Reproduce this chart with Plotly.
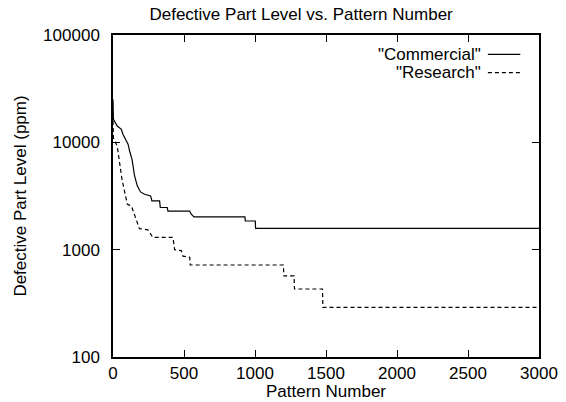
import plotly.graph_objects as go

# ---- data ----
commercial_x = [0, 3, 30, 59, 70, 106, 117, 134, 152, 171, 194, 222, 265, 274, 328, 333,
                382, 387, 540, 551, 570, 929, 932, 1002, 1004, 3000]
commercial_y = [25000, 16400, 14200, 13200, 11900, 9600, 8300, 6950, 4860, 3930, 3450, 3280,
                3170, 2850, 2850, 2470, 2470, 2290, 2290, 2140, 2020, 2020, 1850, 1850, 1580, 1580]

research_x = [0, 3, 30, 54, 63, 101, 129, 186, 246, 280, 422, 434, 481, 493, 540, 544,
              1200, 1203, 1275, 1278, 1475, 1478, 3000]
research_y = [15800, 11000, 9200, 5620, 4530, 2650, 2560, 1570, 1530, 1300, 1300, 1000, 980,
              870, 850, 720, 720, 570, 570, 430, 430, 290, 290]

series_names = ['"Commercial"', '"Research"']
y_tickvals = [100, 1000, 10000, 100000]
y_ticktext = ["100", "1000", "10000", "100000"]
y_minor_tickvals = [m * d for d in (100, 1000, 10000) for m in range(2, 10)]
x_tickvals = [0, 500, 1000, 1500, 2000, 2500, 3000]

FONT = "Liberation Sans, Arial, Helvetica, sans-serif"
FS = 17

fig = go.Figure()
fig.add_trace(go.Scatter(x=commercial_x, y=commercial_y, mode="lines", name=series_names[0],
                         line=dict(color="black", width=1.2), showlegend=False))
fig.add_trace(go.Scatter(x=research_x, y=research_y, mode="lines", name=series_names[1],
                         line=dict(color="black", width=1.2, dash="4px,3px"), showlegend=False))

# legend (gnuplot style: text right-aligned, sample to the right)
legend_rows = [(0.940, "solid"), (0.883, "4px,3px")]
for name, (yp, dash) in zip(series_names, legend_rows):
    fig.add_annotation(x=0.866, y=yp, xref="paper", yref="paper", text=name, showarrow=False,
                       xanchor="right", yanchor="middle", borderpad=0,
                       font=dict(family=FONT, size=FS, color="black"))
    fig.add_shape(type="line", xref="paper", yref="paper", x0=0.880, x1=0.956, y0=yp, y1=yp,
                  line=dict(color="black", width=1.2, dash=dash))

# x-axis title placed just under the tick labels
fig.add_annotation(x=0.5, y=-0.107, xref="paper", yref="paper", text="Pattern Number",
                   showarrow=False, xanchor="center", yanchor="middle", borderpad=0,
                   font=dict(family=FONT, size=FS, color="black"))

fig.update_layout(
    width=566, height=402,
    margin=dict(l=113, r=27, t=35, b=45, autoexpand=False),
    paper_bgcolor="white", plot_bgcolor="white",
    font=dict(family=FONT, size=FS, color="black"),
    title=dict(text="Defective Part Level vs. Pattern Number", x=0.532, xref="container",
               xanchor="center", y=0.966, yref="container", yanchor="middle",
               font=dict(family=FONT, size=FS, color="black")),
)
fig.update_xaxes(
    range=[0, 3000], tickvals=x_tickvals, showgrid=False, zeroline=False, automargin=False,
    showline=True, linecolor="black", linewidth=1.5, mirror="allticks",
    ticks="inside", ticklen=7, tickcolor="black", tickwidth=1,
    ticklabelstandoff=0,
)
fig.update_yaxes(
    type="log", range=[2, 5], tickvals=y_tickvals, ticktext=y_ticktext, showgrid=False,
    zeroline=False, showline=True, linecolor="black", linewidth=1.5, mirror="allticks",
    ticks="inside", ticklen=7, tickcolor="black", tickwidth=1, automargin=False,
    ticklabelstandoff=8,
    title=dict(text="Defective Part Level (ppm)", standoff=12, font=dict(family=FONT, size=FS)),
)
# minor ticks on both sides of the log axis
minor_axis = dict(type="log", range=[2, 5], tickvals=y_minor_tickvals, showticklabels=False,
                  showgrid=False, zeroline=False, showline=False, ticks="inside", ticklen=4,
                  tickcolor="black", tickwidth=1, overlaying="y", automargin=False)
fig.update_layout(yaxis2=dict(minor_axis, side="left"), yaxis3=dict(minor_axis, side="right"))

fig.write_html("out.html")
